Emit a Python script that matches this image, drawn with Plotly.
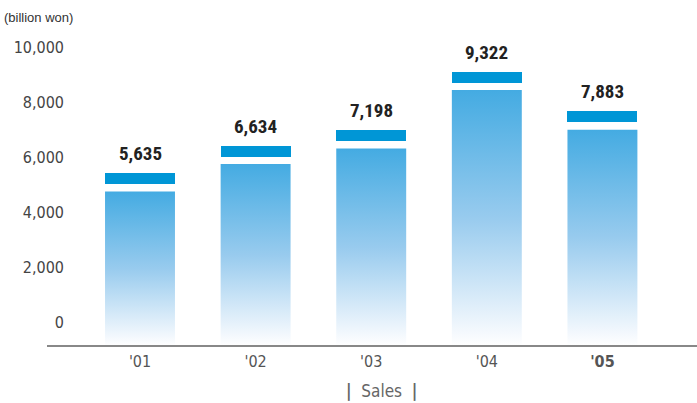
import plotly.graph_objects as go

years = ["'01", "'02", "'03", "'04", "'05"]
sales = [5635, 6634, 7198, 9322, 7883]
y_ticks = [0, 2000, 4000, 6000, 8000, 10000]

# style constants (value units)
BAR_W = 0.605
CAP_H = 400
GAP = 270
Y_MIN = -655
Y_MAX = 10836

CAP_COLOR = "#0096d6"
GRAD = [[0.0, "#ffffff"], [0.06, "#f3f8fd"], [0.5, "#98cbee"], [1.0, "#44abe2"]]
TICK_FONT = "DejaVu Sans Condensed, DejaVu Sans, sans-serif"
NUM_FONT = "Roboto Condensed, Roboto, sans-serif"

fig = go.Figure()

idx = list(range(len(years)))
for i, v in zip(idx, sales):
    x0, x1 = i - BAR_W / 2, i + BAR_W / 2
    top = v - CAP_H - GAP
    fig.add_trace(go.Scatter(
        x=[x0, x1, x1, x0, x0], y=[Y_MIN, Y_MIN, top, top, Y_MIN],
        mode="lines", line=dict(width=0), fill="toself",
        fillgradient=dict(type="vertical", colorscale=GRAD),
        hoverinfo="skip", showlegend=False))

fig.add_trace(go.Bar(
    x=idx, y=[CAP_H] * len(sales), base=[v - CAP_H for v in sales],
    width=BAR_W, marker=dict(color=CAP_COLOR, line=dict(width=0)),
    showlegend=False, hoverinfo="skip"))

for i, v in zip(idx, sales):
    fig.add_annotation(x=i, y=v, text=f"{v:,}", showarrow=False,
                       yanchor="bottom", yshift=6,
                       font=dict(family=NUM_FONT, size=19, color="#222222", weight="bold"))

ticktext = years[:-1] + [f"<b>{years[-1]}</b>"]

fig.update_layout(
    width=697, height=403,
    margin=dict(l=70, r=0, t=30, b=57),
    paper_bgcolor="white", plot_bgcolor="white",
    bargap=0,
    xaxis=dict(range=[-0.6055, 4.818], tickmode="array", tickvals=idx, ticktext=ticktext,
               showgrid=False, zeroline=False, showline=False,
               ticks="outside", ticklen=1, tickcolor="rgba(0,0,0,0)",
               tickfont=dict(family=TICK_FONT, size=16, color="#555555"), fixedrange=True),
    yaxis=dict(range=[Y_MIN, Y_MAX], tickmode="array", tickvals=y_ticks,
               ticktext=[f"{t:,}" for t in y_ticks],
               ticklabelposition="outside top", ticklabelshift=6, ticklabelstandoff=5,
               showgrid=False, zeroline=False, showline=False, ticks="",
               tickfont=dict(family=TICK_FONT, size=16, color="#444444"), fixedrange=True),
    shapes=[dict(type="line", xref="paper", yref="paper",
                 x0=-23 / 627, x1=1, y0=0, y1=0,
                 line=dict(color="#888888", width=2))],
    annotations=list(fig.layout.annotations) + [
        dict(text="(billion won)", xref="paper", yref="paper", x=0, y=1,
             xanchor="left", yanchor="middle", xshift=-68, yshift=13, showarrow=False,
             font=dict(family="Liberation Sans, Arial, sans-serif", size=13, color="#333333")),
        dict(text="<b>|</b>\u00a0 Sales \u00a0<b>|</b>", xref="paper", yref="paper",
             x=(381 - 70) / 627, y=0,
             xanchor="center", yanchor="middle", yshift=-45, showarrow=False,
             font=dict(family=TICK_FONT, size=17, color="#666666")),
    ],
)

fig.write_html("out.html")
